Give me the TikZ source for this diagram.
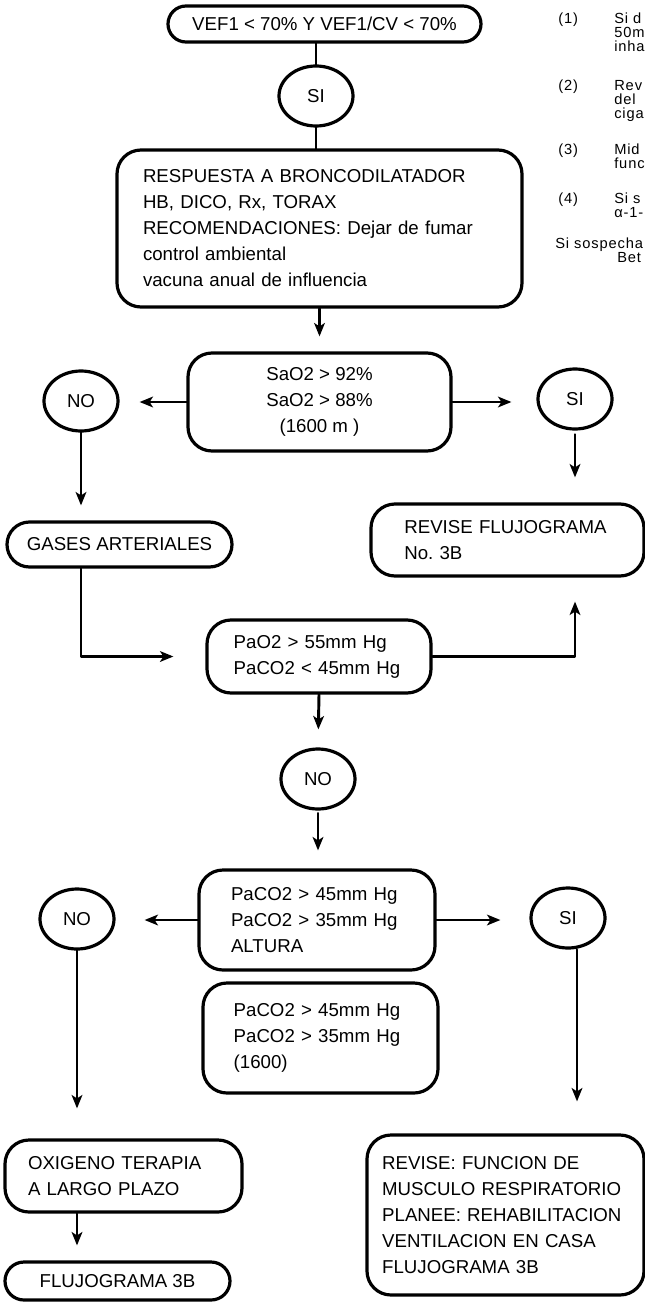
\documentclass[tikz,border=0pt]{standalone}
\usepackage{fontspec}
\setmainfont{Liberation Sans}
\newfontfamily\notefont[LetterSpace=6]{Liberation Sans}
\usetikzlibrary{arrows.meta,shapes.geometric,shapes.misc}
\frenchspacing

\begin{document}
\begin{tikzpicture}[x=0.75pt, y=-0.75pt, line join=round, line cap=round,
  font=\fontsize{14}{19.5}\selectfont,
  >={Stealth[length=10pt,width=8pt,inset=2.5pt]},
  box/.style={draw, line width=2.4pt, rounded corners=18pt, align=left, inner ysep=0pt},
  pill/.style={draw, line width=2.4pt, rounded rectangle, inner sep=0pt},
  dec/.style={draw, line width=2.4pt, ellipse, minimum width=55.5pt, minimum height=45pt, inner sep=0pt},
  flow/.style={line width=2.2pt},
  note/.style={font=\notefont\fontsize{11}{13}\selectfont, anchor=base west, inner sep=0pt}]
\useasboundingbox (0,0) rectangle (645,1302);

\node[pill, minimum width=234.75pt, minimum height=27pt] (vef) at (324.5,24) {VEF1 < 70\% Y VEF1/CV < 70\%};
\node[dec] (si1) at (316,96) {SI};
\node[box, text width=264.75pt, inner xsep=19.5pt, minimum height=117.75pt] (resp) at (319.5,228.5) {RESPUESTA A BRONCODILATADOR\\HB, DICO, Rx, TORAX\\RECOMENDACIONES: Dejar de fumar\\control ambiental\\vacuna anual de influencia};
\node[box, align=center, minimum width=197.25pt, minimum height=73.5pt] (sao) at (319.5,402) {SaO2 > 92\%\\SaO2 > 88\%\\(1600 m )};
\node[dec] (no1) at (81,401) {NO};
\node[dec] (si2) at (575,399) {SI};
\node[pill, minimum width=168.75pt, minimum height=33.75pt] (gases) at (119.5,544.5) {GASES ARTERIALES};
\node[box, text width=154.75pt, inner xsep=25pt, minimum height=54pt] (rev1) at (507.5,540) {REVISE FLUJOGRAMA\\No. 3B};
\node[box, text width=128pt, inner xsep=20pt, minimum height=54.75pt] (pao) at (319,656.5) {PaO2 > 55mm Hg\\PaCO2 < 45mm Hg};
\node[dec] (no3) at (318,779) {NO};
\node[box, text width=129pt, inner xsep=24pt, minimum height=75pt] (pacoA) at (317,920) {PaCO2 > 45mm Hg\\PaCO2 > 35mm Hg\\ALTURA};
\node[dec] (no4) at (77,919) {NO};
\node[dec] (si4) at (568,918) {SI};
\node[box, text width=130.25pt, inner xsep=23pt, minimum height=82.5pt] (pacoB) at (320.5,1038) {PaCO2 > 45mm Hg\\PaCO2 > 35mm Hg\\(1600)};
\node[box, text width=143.25pt, inner xsep=17.25pt, minimum height=54pt] (oxi) at (123.5,1176) {OXIGENO TERAPIA\\A LARGO PLAZO};
\node[pill, minimum width=168.75pt, minimum height=28.5pt] (fluj) at (117.5,1281) {FLUJOGRAMA 3B};
\node[box, text width=185pt, inner xsep=11.375pt, minimum height=120pt] (rev2) at (505.5,1215) {REVISE: FUNCION DE\\MUSCULO RESPIRATORIO\\PLANEE: REHABILITACION\\VENTILACION EN CASA\\FLUJOGRAMA 3B};

\draw[flow] (si1.north |- vef.south) -- (si1.north);
\draw[flow] (si1.south) -- (si1.south |- resp.north);
\draw[flow, ->, shorten >=11.25pt] (resp.south) -- (sao.north);
\draw[flow, ->, shorten >=15pt] (sao.west) -- (sao.west -| no1.east);
\draw[flow, ->, shorten >=18.75pt] (sao.east) -- (sao.east -| si2.west);
\draw[flow, ->, shorten >=11.25pt] (no1) -- (no1 |- gases.north);
\draw[flow, ->, shorten <=3pt, shorten >=18.75pt] (si2.south) -- (si2.south |- rev1.north);
\draw[flow, ->, shorten >=24pt] (gases.south -| no1) |- (pao.west);
\draw[flow, ->, shorten >=18pt] (pao.east) -| (si2.south |- rev1.south);
\draw[flow, ->, shorten >=13.5pt] (pao.south) -- (no3.north);
\draw[flow, ->, shorten <=2pt, shorten >=13.5pt] (no3.south) -- (no3.south |- pacoA.north);
\draw[flow, ->, shorten >=21.75pt] (pacoA.west) -- (pacoA.west -| no4.east);
\draw[flow, ->, shorten >=21.75pt] (pacoA.east) -- (pacoA.east -| si4.west);
\draw[flow, ->, shorten >=22.5pt] (no4.south) -- (no4.south |- oxi.north);
\draw[flow, ->, shorten >=24pt] ([xshift=6.75pt]si4.south) -- ([xshift=6.75pt]si4.south |- rev2.north);
\draw[flow, ->, shorten >=11.25pt] (oxi.south -| no4) -- (no4 |- fluj.north);

\foreach \y/\t in {19/(1), 86/(2), 150/(3), 198/(4)}
  \node[note] at (558,\y+5) {\t};
\foreach \y/\t in {19/Si d, 33/50m, 47/inha, 86/Rev, 100/del, 114/ciga, 150/Mid, 164/func, 198/Si s, 212/α-1-}
  \node[note] at (614,\y+5) {\t};
\node[note] at (555,248) {Si sospecha};
\node[note] at (617,262) {Bet};
\end{tikzpicture}
\end{document}
